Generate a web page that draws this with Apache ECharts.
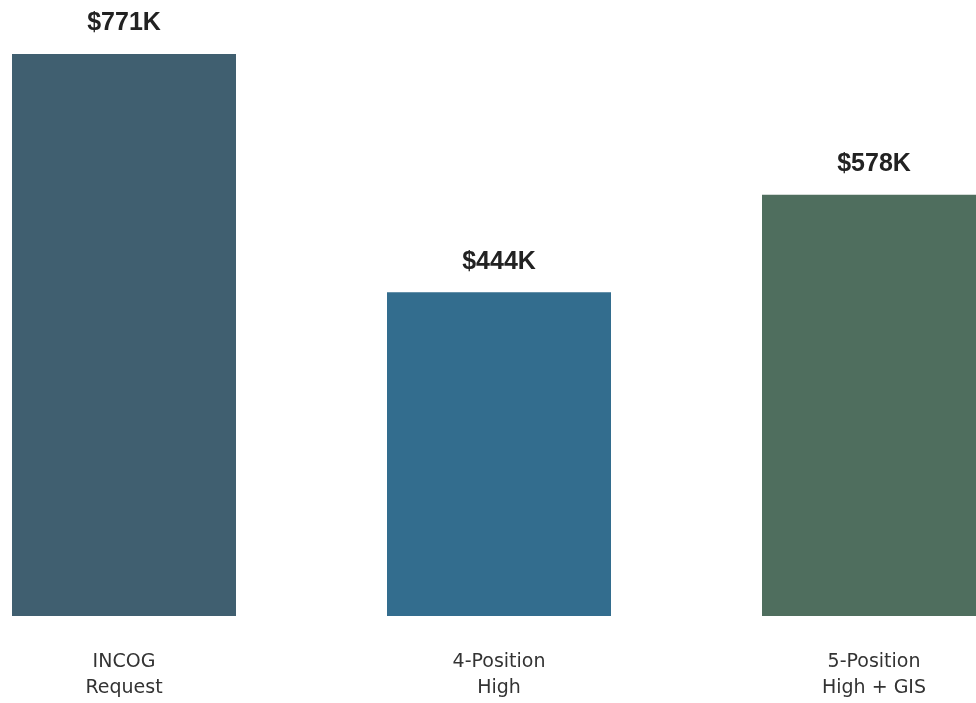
<!DOCTYPE html>
<html>
<head>
<meta charset="utf-8">
<script src="https://cdn.jsdelivr.net/npm/echarts@6/dist/echarts.min.js"></script>
<style>html,body{margin:0;padding:0;background:#fff;}#c{width:976px;height:703px;}</style>
</head>
<body>
<div id="c"></div>
<script>
const categories = ['INCOG\nRequest', '4-Position\nHigh', '5-Position\nHigh + GIS'];
const values = [771, 444, 578];
const valueLabels = ['$771K', '$444K', '$578K'];
const colors = ['#405f70', '#336d8e', '#4f6e5e'];

const chart = echarts.init(document.getElementById('c'));
chart.setOption({
  animation: false,
  backgroundColor: '#ffffff',
  grid: { left: 124, top: 54, right: 102, bottom: 87, containLabel: false },
  xAxis: {
    type: 'category',
    data: categories,
    boundaryGap: false,
    axisLine: { show: false },
    axisTick: { show: false },
    axisLabel: {
      margin: 33,
      fontFamily: 'DejaVu Sans',
      fontSize: 19,
      lineHeight: 26,
      color: '#333333'
    }
  },
  yAxis: {
    type: 'value',
    min: 0,
    max: 771,
    show: false,
    splitLine: { show: false }
  },
  series: [{
    type: 'bar',
    barWidth: 224,
    clip: false,
    data: values.map((v, i) => ({ value: v, itemStyle: { color: colors[i] } })),
    label: {
      show: true,
      position: 'top',
      distance: 18,
      formatter: p => valueLabels[p.dataIndex],
      fontFamily: 'Liberation Sans',
      fontWeight: 'bold',
      fontSize: 25,
      color: '#222222'
    }
  }]
});
</script>
</body>
</html>
